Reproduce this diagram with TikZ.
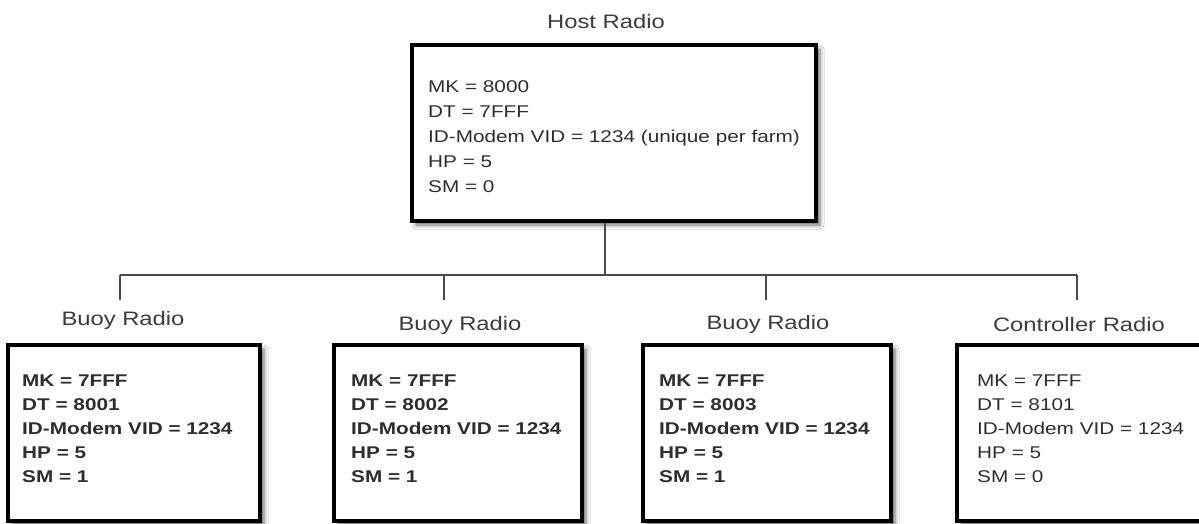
\documentclass[tikz,border=0pt]{standalone}
\usepackage{fontspec}
\setmainfont{Liberation Sans}[FakeStretch=1.22]
\usetikzlibrary{shadows.blur}
\definecolor{txt}{HTML}{2E2E2E}
\definecolor{lbl}{HTML}{3C3C3C}
\definecolor{conn}{HTML}{4A4A4A}
\tikzset{
  radiobox/.style={draw=black, line width=3.2pt, fill=white, rectangle, inner sep=0pt,
    blur shadow={shadow xshift=4pt, shadow yshift=-4pt, shadow blur radius=4pt, shadow opacity=60}},
  boxtext/.style={anchor=north west, inner sep=0pt, align=left, text=txt},
  hosttext/.style={boxtext, font=\fontsize{17}{25}\selectfont},
  buoytext/.style={boxtext, font=\fontsize{17}{24}\selectfont\bfseries},
  ctrltext/.style={boxtext, font=\fontsize{17}{24}\selectfont},
  title/.style={anchor=base, text=lbl, inner sep=0pt, font=\fontsize{19.5}{22}\selectfont},
  link/.style={draw=conn, line width=1.5pt},
}
\begin{document}
\begin{tikzpicture}[x=1pt,y=-1pt]
\useasboundingbox (0,0) rectangle (1199,523);
\clip (0,0) rectangle (1199,523);
\fill[white] (0,0) rectangle (1199,523);

% titles
\node[title] (lhost) at (606,28) {Host Radio};
\node[title] (l1) at (123,325) {Buoy Radio};
\node[title] (l2) at (460,330) {Buoy Radio};
\node[title] (l3) at (768,329) {Buoy Radio};
\node[title] (l4) at (1079,331) {Controller Radio};

% boxes
\node[radiobox, minimum width=404pt, minimum height=176pt] (host) at (614,133) {};
\node[radiobox, minimum width=252pt, minimum height=176pt] (b1) at (134,433) {};
\node[radiobox, minimum width=248pt, minimum height=176pt] (b2) at (458,433) {};
\node[radiobox, minimum width=248pt, minimum height=176pt] (b3) at (767,433) {};
\node[radiobox, minimum width=252pt, minimum height=176pt] (b4) at (1083,433) {};

% box texts
\node[hosttext] (thost) at (428,80) {MK = 8000\\DT = 7FFF\\ID-Modem VID = 1234 (unique per farm)\\HP = 5\\SM = 0};
\node[buoytext] (t1) at (22,375) {MK = 7FFF\\DT = 8001\\ID-Modem VID = 1234\\HP = 5\\SM = 1};
\node[buoytext] (t2) at (351,375) {MK = 7FFF\\DT = 8002\\ID-Modem VID = 1234\\HP = 5\\SM = 1};
\node[buoytext] (t3) at (659,375) {MK = 7FFF\\DT = 8003\\ID-Modem VID = 1234\\HP = 5\\SM = 1};
\node[ctrltext] (t4) at (977,375) {MK = 7FFF\\DT = 8101\\ID-Modem VID = 1234\\HP = 5\\SM = 0};

% connectors
\coordinate (j0) at (605,275);
\coordinate (d1) at (120,275);
\coordinate (d2) at (444,275);
\coordinate (d3) at (766,275);
\coordinate (d4) at (1077,275);
\coordinate (e1) at (120,300);
\coordinate (e2) at (444,300);
\coordinate (e3) at (766,300);
\coordinate (e4) at (1077,300);
\draw[link] (host.south -| j0) -- (j0);
\draw[link] (d1) -- (d4);
\draw[link] (d1) -- (e1);
\draw[link] (d2) -- (e2);
\draw[link] (d3) -- (e3);
\draw[link] (d4) -- (e4);
\end{tikzpicture}
\end{document}
